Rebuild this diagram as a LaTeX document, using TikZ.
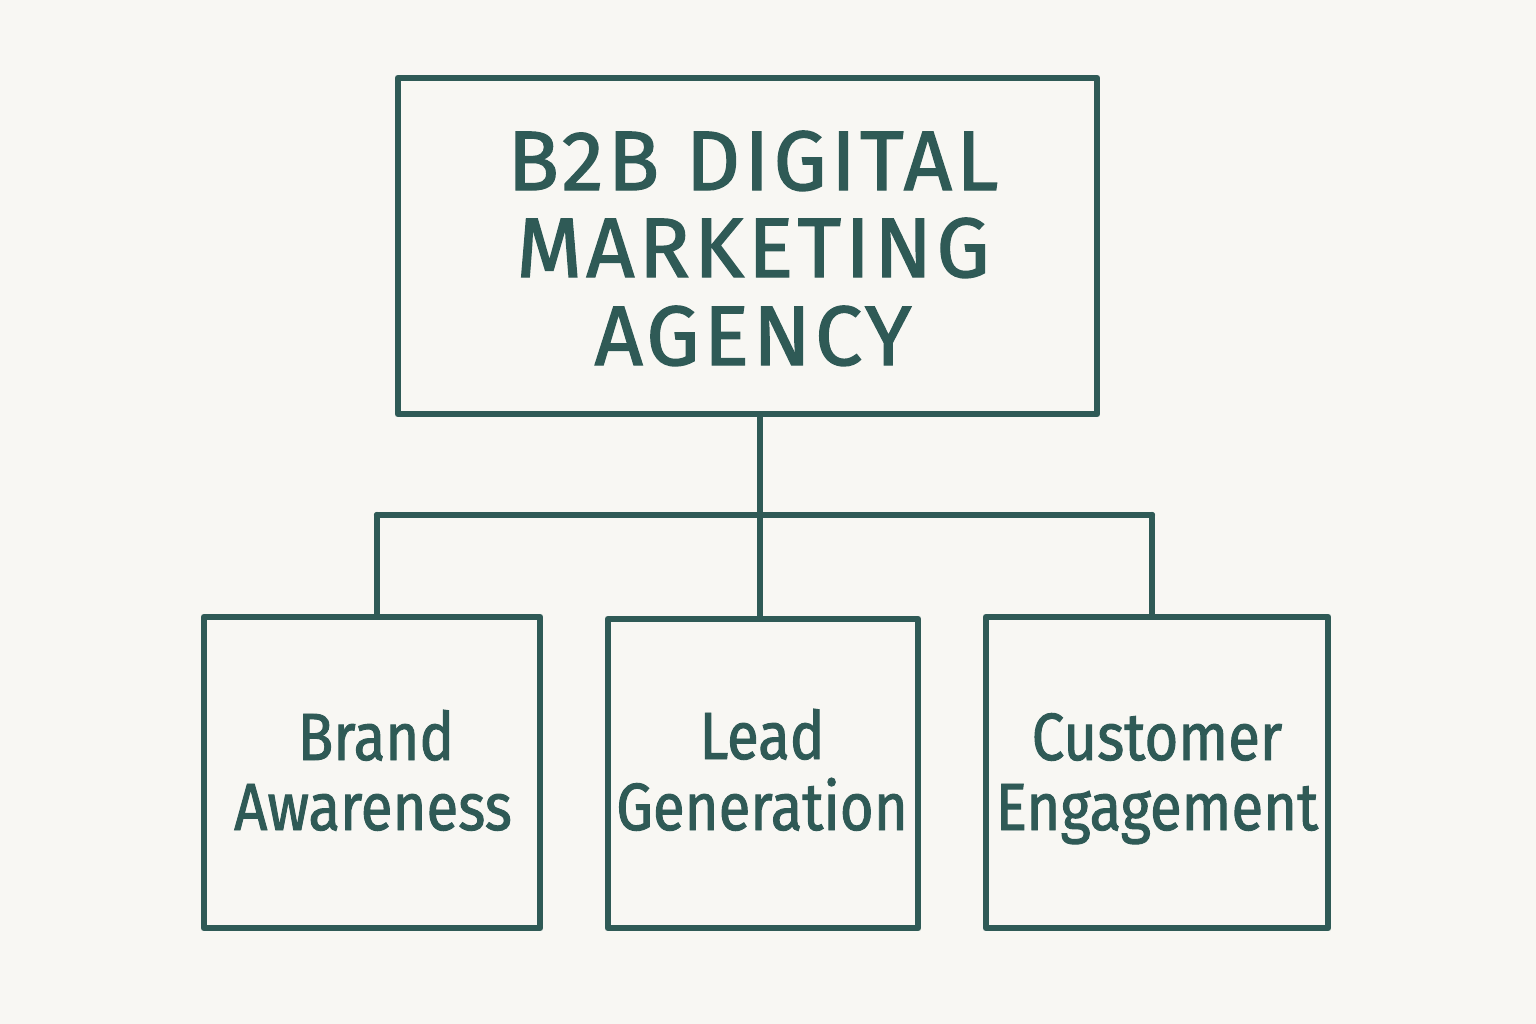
\documentclass[tikz,border=0pt]{standalone}
\usepackage{fontspec}
\setmainfont{Fira Sans}
\definecolor{ink}{HTML}{2F5A56}
\definecolor{paper}{HTML}{F8F7F3}
\begin{document}
\begin{tikzpicture}[x=0.01cm,y=-0.01cm,
  box/.style={draw=ink,line width=1.8pt,line join=round,fill=none,inner sep=0pt},
  wire/.style={draw=ink,line width=1.8pt,line cap=round,line join=round},
  title/.style={text=ink,anchor=base,inner sep=0pt,font=\fontsize{24}{24}\selectfont\addfontfeatures{LetterSpace=5,FakeBold=1.6}},
  label/.style={text=ink,anchor=base,inner sep=0pt,font=\fontsize{19}{19}\selectfont\addfontfeatures{FakeStretch=0.87,FakeBold=1.4}}]
\fill[paper] (0,0) rectangle (1536,1024);
\useasboundingbox (0,0) rectangle (1536,1024);
% boxes
\node[box,minimum width=6.99cm,minimum height=3.36cm] (top) at (747.5,246) {};
\node[box,minimum width=3.36cm,minimum height=3.11cm] (b1) at (372,772.5) {};
\node[box,minimum width=3.10cm,minimum height=3.09cm] (b2) at (763,773.5) {};
\node[box,minimum width=3.42cm,minimum height=3.11cm] (b3) at (1157,772.5) {};
% texts
\node[title] (t1) at (753,190) {B2B DIGITAL};
\node[title] (t2) at (753,277) {MARKETING};
\node[title] (t3) at (753,365) {AGENCY};
\node[label] (l1a) at (376,760) {Brand};
\node[label] (l1b) at (373,830) {Awareness};
\node[label] (l2a) at (762,759) {Lead};
\node[label] (l2b) at (762,830) {Generation};
\node[label] (l3a) at (1157,760) {Customer};
\node[label] (l3b) at (1157,830) {Engagement};
% connectors
\coordinate (j) at (760,515);
\coordinate (jl) at (377,515);
\coordinate (jr) at (1152,515);
\draw[wire] (top.south -| j) -- (j);
\draw[wire] (jl) -- (jr);
\draw[wire] (jl) -- (jl |- b1.north);
\draw[wire] (j) -- (j |- b2.north);
\draw[wire] (jr) -- (jr |- b3.north);
\end{tikzpicture}
\end{document}
